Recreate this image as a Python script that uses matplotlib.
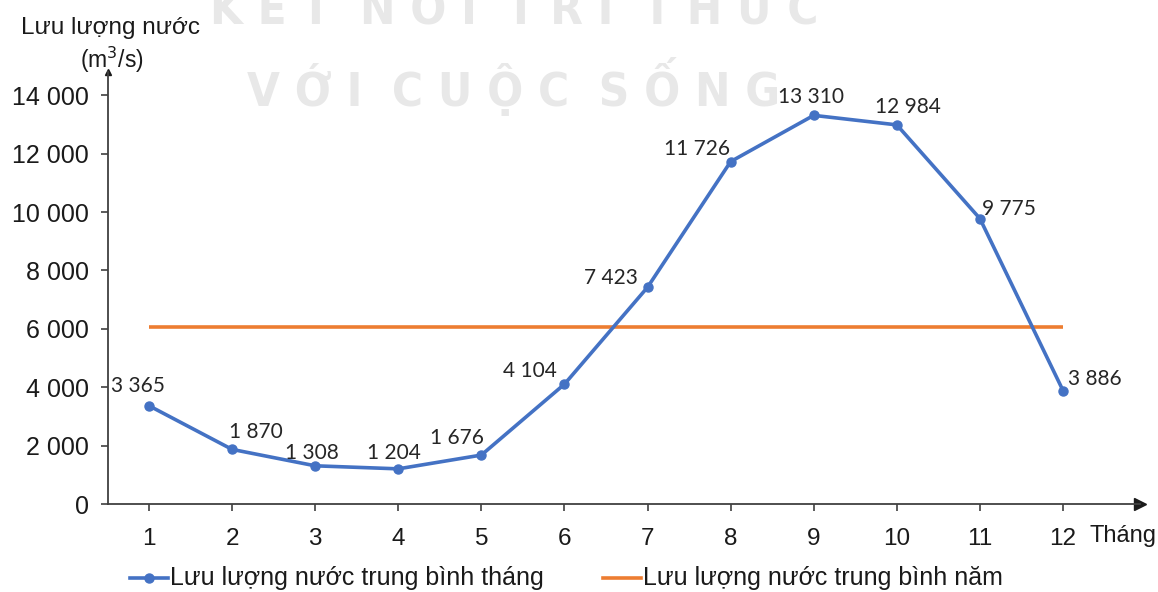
import matplotlib.pyplot as plt
import numpy as np

months = list(range(1, 13))
monthly_flow = [3365, 1870, 1308, 1204, 1676, 4104, 7423, 11726, 13310, 12984, 9775, 3886]
y_ticks = [0, 2000, 4000, 6000, 8000, 10000, 12000, 14000]

BLUE = "#4472C4"
ORANGE = "#ED7D31"
AXIS = "#404040"
TXT = "#1a1a1a"
FONT = ["Liberation Sans", "DejaVu Sans"]
LABEL_FONT = ["Lato", "DejaVu Sans"]

# label offsets in pixels, one per month
LABEL_OFFSETS = [(-11, 20), (24, 17), (-3, 13), (-4, 16), (-24, 17), (-35, 13),
                 (-37, 9), (-34, 13), (-3, 18), (11, 18), (29, 10), (32, 12)]


def fmt(v):
    return f"{v:,}".replace(",", " ")


plt.rcParams["font.family"] = FONT
fig = plt.figure(figsize=(11.58, 5.92), dpi=100)

# faint publisher watermark behind the chart
for y, line in ((24, "K Ế T  N Ố I  T R I  T H Ứ C"), (106, "V Ớ I  C U Ộ C  S Ố N G")):
    fig.text(514 / 1158, 1 - y / 592, line, fontsize=34, family="DejaVu Sans",
             fontstretch="condensed", fontweight="bold", color="#e8e8e8",
             ha="center", va="baseline", zorder=-5)

ax = fig.add_axes((108 / 1158, 88 / 592, 1032 / 1158, 432 / 592))
ax.patch.set_alpha(0)
ax.set_xlim(1 - 41 / 83.1, 12 + 77 / 83.1)
ax.set_ylim(0, 14795)

for s in ("top", "right"):
    ax.spines[s].set_visible(False)
for s in ("left", "bottom"):
    ax.spines[s].set_color(AXIS)
    ax.spines[s].set_linewidth(1.3)

ax.plot(1, 0, ">", color=TXT, ms=8, transform=ax.transAxes, clip_on=False)
ax.plot(0, 1, "^", color=TXT, ms=4, transform=ax.transAxes, clip_on=False)

ax.set_xticks(months)
ax.set_xticklabels([str(m) for m in months])
ax.set_yticks(y_ticks)
ax.set_yticklabels([fmt(v) for v in y_ticks])
ax.tick_params(axis="both", colors=AXIS, labelcolor=TXT, length=5, width=1.2)
ax.tick_params(axis="x", pad=12, labelsize=17.5)
ax.tick_params(axis="y", pad=9, labelsize=18)

# annual average
mean_flow = np.mean(monthly_flow)
ax.plot([months[0], months[-1]], [mean_flow, mean_flow], color=ORANGE, lw=2.6,
        solid_capstyle="butt", zorder=2)

# monthly flow
ax.plot(months, monthly_flow, "-o", color=BLUE, lw=2.6, ms=6.5, zorder=3)

for m, v, (dx, dy) in zip(months, monthly_flow, LABEL_OFFSETS):
    ax.annotate(fmt(v), (m, v), xytext=(dx, dy), textcoords="offset pixels",
                ha="center", va="center", fontsize=15, color="#262626",
                family=LABEL_FONT)

fig.text(1090 / 1158, 1 - 536 / 592, "Tháng", fontsize=17, color=TXT,
         ha="left", va="center")
fig.text(111 / 1158, 1 - 28 / 592, "Lưu lượng nước", fontsize=17.5, color=TXT,
         ha="center", va="center")
fig.text(112 / 1158, 1 - 60 / 592, "(m$^3$/s)", fontsize=16.5, color=TXT,
         ha="center", va="center")

# legend
ly = 1 - 578 / 592
fig.lines.append(plt.Line2D([130 / 1158, 168 / 1158], [ly, ly], transform=fig.transFigure,
                            color=BLUE, lw=2.6))
fig.lines.append(plt.Line2D([149 / 1158], [ly], transform=fig.transFigure,
                            color=BLUE, marker="o", ms=6.5))
fig.text(170 / 1158, ly, "Lưu lượng nước trung bình tháng", fontsize=18,
         color=TXT, ha="left", va="center")
fig.lines.append(plt.Line2D([603 / 1158, 641 / 1158], [ly, ly], transform=fig.transFigure,
                            color=ORANGE, lw=2.6))
fig.text(643 / 1158, ly, "Lưu lượng nước trung bình năm", fontsize=18,
         color=TXT, ha="left", va="center")

fig.savefig("out.png", dpi=100, facecolor="white")
